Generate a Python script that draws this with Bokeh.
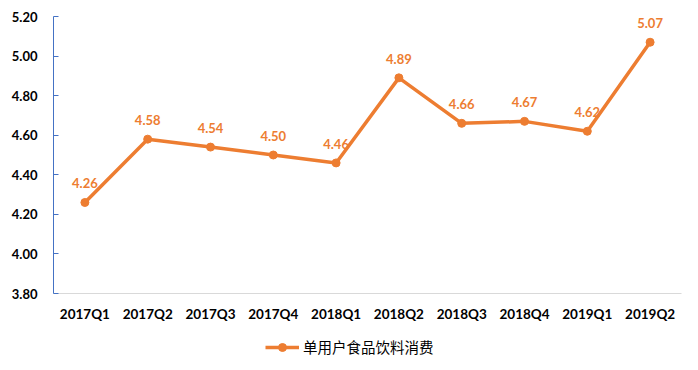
from bokeh.plotting import figure
from bokeh.layouts import column
from bokeh.models import FactorRange, FixedTicker, NumeralTickFormatter, Legend, LegendItem, ColumnDataSource, Range1d
from bokeh.core.properties import value
from bokeh.embed import file_html
from bokeh.resources import INLINE

quarters = ["2017Q1", "2017Q2", "2017Q3", "2017Q4", "2018Q1", "2018Q2", "2018Q3", "2018Q4", "2019Q1", "2019Q2"]
spend = [4.26, 4.58, 4.54, 4.50, 4.46, 4.89, 4.66, 4.67, 4.62, 5.07]
y_ticks = [3.8, 4.0, 4.2, 4.4, 4.6, 4.8, 5.0, 5.2]
series_name = "单用户食品饮料消费"

ORANGE = "#ED7D31"
src = ColumnDataSource(dict(x=quarters, y=spend, lab=["%.2f" % v for v in spend]))

p = figure(width=698, height=330, x_range=FactorRange(*quarters, range_padding=0),
           y_range=Range1d(3.8, 5.2), output_backend="svg", toolbar_location=None,
           min_border_left=53, min_border_right=17, min_border_top=16, min_border_bottom=37)
p.outline_line_color = None
p.grid.visible = False

ln = p.line("x", "y", source=src, line_color=ORANGE, line_width=3.5)
mk = p.scatter("x", "y", source=src, size=8, fill_color=ORANGE, line_color=ORANGE)
p.text("x", "y", text="lab", source=src, y_offset=-19, text_align="center", text_baseline="middle",
       text_color=ORANGE, text_font=value("Lato"), text_font_style="bold", text_font_size="13px")

ya = p.yaxis[0]
ya.ticker = FixedTicker(ticks=y_ticks)
ya.formatter = NumeralTickFormatter(format="0.00")
ya.axis_line_color = "#4472C4"
ya.major_tick_line_color = "#4472C4"
ya.major_tick_in = 5
ya.major_tick_out = 0
ya.minor_tick_line_color = None
ya.major_label_standoff = 16
ya.major_label_text_font = "Lato"
ya.major_label_text_font_style = "bold"
ya.major_label_text_font_size = "13px"
ya.major_label_text_color = "#000000"

xa = p.xaxis[0]
xa.axis_line_color = "#D9D9D9"
xa.major_tick_line_color = None
xa.major_tick_in = 0
xa.major_tick_out = 0
xa.minor_tick_line_color = None
xa.major_label_standoff = 12
xa.major_label_text_font = "Lato"
xa.major_label_text_font_style = "bold"
xa.major_label_text_font_size = "13.5px"
xa.major_label_text_color = "#000000"

# legend strip below the chart (renderers hold no visible data; they only supply the legend glyph)
nan = float("nan")
lf = figure(width=698, height=40, x_range=Range1d(0, 1), y_range=Range1d(0, 1),
            output_backend="svg", toolbar_location=None, x_axis_location=None, y_axis_location=None,
            min_border_left=0, min_border_right=0, min_border_top=0, min_border_bottom=0)
lf.outline_line_color = None
lf.grid.visible = False
lln = lf.line(x=[nan], y=[nan], line_color=ORANGE, line_width=3.5)
lmk = lf.scatter(x=[nan], y=[nan], size=8, fill_color=ORANGE, line_color=ORANGE)
legend = Legend(items=[LegendItem(label=series_name, renderers=[lln, lmk])],
                location=(212, 13), orientation="horizontal",
                padding=0, margin=0, border_line_color=None, background_fill_alpha=0,
                glyph_width=34, glyph_height=20, label_standoff=4, label_height=20,
                label_text_font="Noto Sans CJK SC", label_text_font_size="14.5px",
                label_text_color="#000000")
lf.add_layout(legend)

open("out.html", "w").write(file_html(column(p, lf, spacing=0), INLINE))
